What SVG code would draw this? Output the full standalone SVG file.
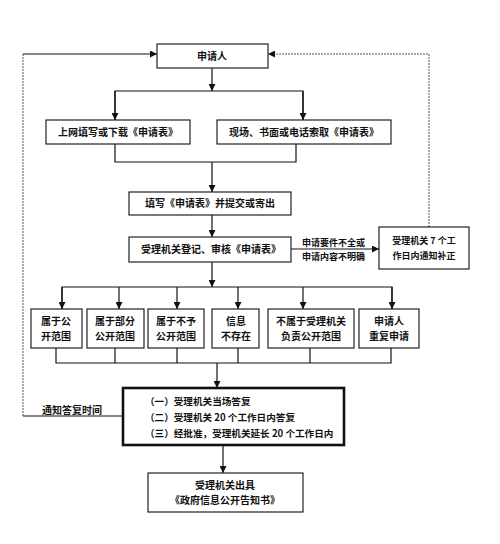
<svg xmlns="http://www.w3.org/2000/svg" width="500" height="544" viewBox="0 0 500 544">
<style>
.b{fill:#fff;stroke:#222;stroke-width:1.2}
.bb{fill:#fff;stroke:#111;stroke-width:2.6}
.t{font-family:"Noto Sans CJK SC","Noto Sans",sans-serif;font-size:10px;fill:#111;font-weight:bold}
.s{font-size:9px}
.k{font-size:9.6px}
.m{text-anchor:middle}
.l{fill:none;stroke:#111;stroke-width:1.2}
.d{fill:none;stroke:#555;stroke-width:1;stroke-dasharray:2 1}
</style>
<defs>
<marker id="a" viewBox="0 0 8 8" refX="8" refY="4" markerWidth="7" markerHeight="7" markerUnits="userSpaceOnUse" orient="auto"><path d="M0,0L8,4L0,8z" fill="#111"/></marker>
</defs>
<rect width="500" height="544" fill="#fff"/>
<g id="connectors">
<path class="l" d="M212,68V91" marker-end="url(#a)"/>
<path class="l" d="M115,120V91H303V120"/>
<path class="l" d="M115,91V120" marker-end="url(#a)"/>
<path class="l" d="M303,91V120" marker-end="url(#a)"/>
<path class="l" d="M115,144V162H296V144"/>
<path class="l" d="M212,162V192" marker-end="url(#a)"/>
<path class="l" d="M212,215V237" marker-end="url(#a)"/>
<path class="l" d="M291,249H379" marker-end="url(#a)"/>
<path class="l" d="M212,262V287" marker-end="url(#a)"/>
<path class="l" d="M62,309V287H392V309"/>
<path class="l" d="M62,287V309" marker-end="url(#a)"/>
<path class="l" d="M119,287V309" marker-end="url(#a)"/>
<path class="l" d="M177,287V309" marker-end="url(#a)"/>
<path class="l" d="M238,287V309" marker-end="url(#a)"/>
<path class="l" d="M303,287V309" marker-end="url(#a)"/>
<path class="l" d="M392,287V309" marker-end="url(#a)"/>
<path class="l" d="M56,348V363H391V348M115,348V363M177,348V363M238,348V363M310,348V363"/>
<path class="l" d="M217,363V388" marker-end="url(#a)"/>
<path class="l" d="M223,445V473" marker-end="url(#a)"/>
<path class="l" d="M123,416H23"/>
<path class="d" d="M23,416V54"/>
<path class="l" d="M23,54H157" marker-end="url(#a)"/>
<path class="d" d="M429,227V54H268" marker-end="url(#a)"/>
<text class="t s" x="302" y="246">申请要件不全或</text>
<text class="t s" x="302" y="260">申请内容不明确</text>
<text class="t" x="42" y="414">通知答复时间</text>
</g>
<g id="n1"><rect class="b" x="157" y="44" width="111" height="24"/><text class="t m" x="212" y="60">申请人</text></g>
<g id="n2"><rect class="b" x="46" y="120" width="144" height="24"/><text class="t m" x="118" y="136">上网填写或下载《申请表》</text></g>
<g id="n3"><rect class="b" x="217" y="120" width="174" height="24"/><text class="t m" x="304" y="136">现场、书面或电话索取《申请表》</text></g>
<g id="n4"><rect class="b" x="129" y="192" width="162" height="23"/><text class="t m" x="210" y="207">填写《申请表》并提交或寄出</text></g>
<g id="n5"><rect class="b" x="129" y="237" width="162" height="25"/><text class="t m" x="211" y="253">受理机关登记、审核《申请表》</text></g>
<g id="n6"><rect class="b" x="379" y="227" width="90" height="42"/><text class="t m s" x="424" y="244">受理机关 7 个工</text><text class="t m s" x="424" y="259">作日内通知补正</text></g>
<g id="n7"><rect class="b" x="31" y="309" width="51" height="39"/><text class="t m" x="56" y="325">属于公</text><text class="t m" x="56" y="340">开范围</text></g>
<g id="n8"><rect class="b" x="87" y="309" width="57" height="39"/><text class="t m" x="115" y="325">属于部分</text><text class="t m" x="115" y="340">公开范围</text></g>
<g id="n9"><rect class="b" x="148" y="309" width="56" height="39"/><text class="t m" x="176" y="325">属于不予</text><text class="t m" x="176" y="340">公开范围</text></g>
<g id="n10"><rect class="b" x="212" y="309" width="47" height="39"/><text class="t m" x="236" y="325">信息</text><text class="t m" x="236" y="340">不存在</text></g>
<g id="n11"><rect class="b" x="268" y="309" width="86" height="39"/><text class="t m" x="311" y="325">不属于受理机关</text><text class="t m" x="311" y="340">负责公开范围</text></g>
<g id="n12"><rect class="b" x="359" y="309" width="60" height="39"/><text class="t m" x="389" y="325">申请人</text><text class="t m" x="389" y="340">重复申请</text></g>
<g id="n13"><rect class="bb" x="123" y="388" width="221" height="57"/><text class="t k" x="145" y="405">（一）受理机关当场答复</text><text class="t k" x="145" y="421">（二）受理机关 20 个工作日内答复</text><text class="t k" x="145" y="437">（三）经批准，受理机关延长 20 个工作日内</text></g>
<g id="n14"><rect class="b" x="148" y="473" width="155" height="39"/><text class="t m" x="225" y="489">受理机关出具</text><text class="t m" x="225" y="504">《政府信息公开告知书》</text></g>
</svg>
